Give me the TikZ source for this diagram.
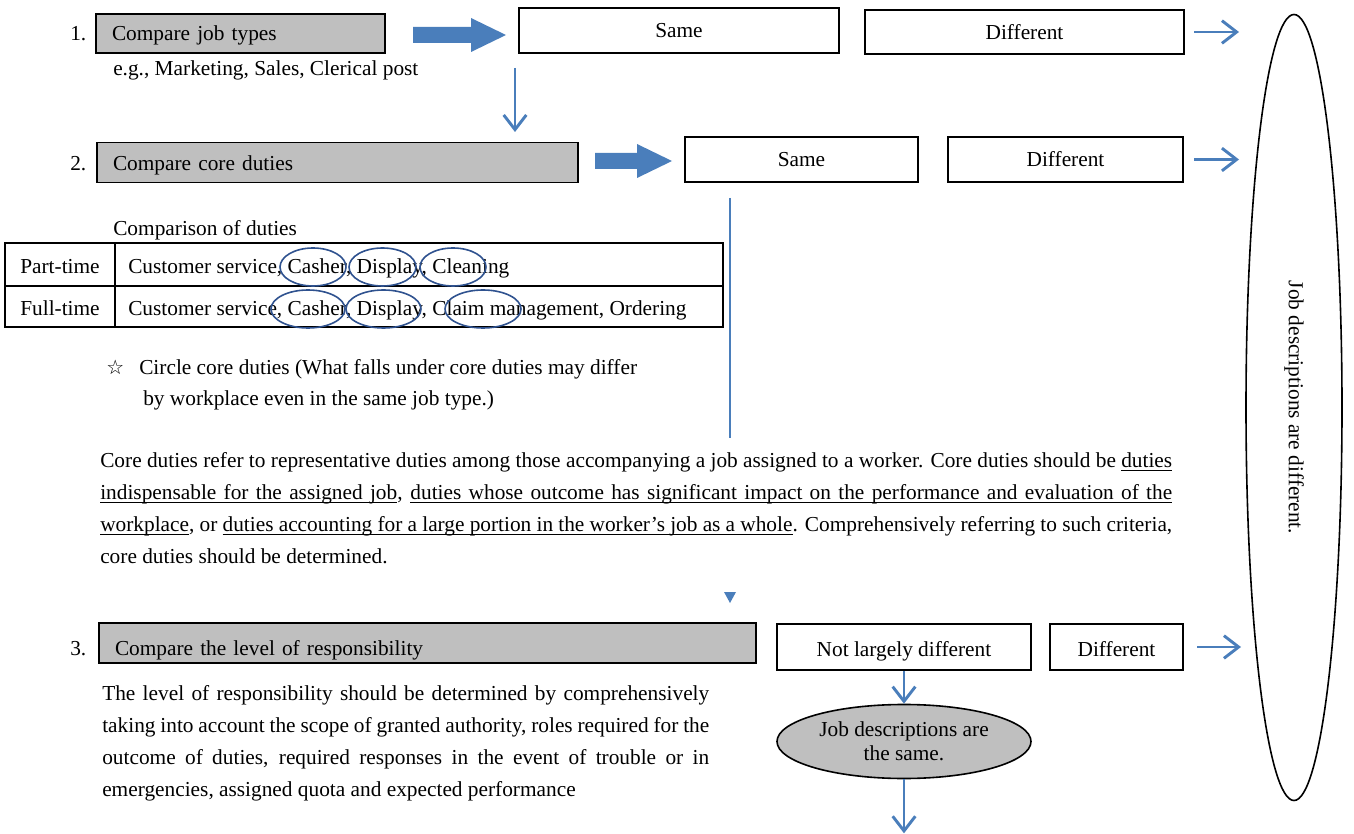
\documentclass[tikz,border=0pt]{standalone}
\usepackage{fontspec}
\setmainfont{Liberation Serif}
\newfontfamily\symfont{DejaVu Sans}
\usetikzlibrary{shapes.geometric,arrows.meta}
\definecolor{ablue}{RGB}{74,126,187}
\definecolor{cblue}{RGB}{47,82,143}
\definecolor{gfill}{RGB}{191,191,191}
\newcommand\uw[1]{\setbox0\hbox{#1}\rlap{\vrule height -1.7pt depth 2.5pt width \wd0}\box0}
\newcommand\us{\leaders\hrule height -1.7pt depth 2.5pt\hskip\fontdimen2\font plus \fontdimen3\font minus \fontdimen4\font\relax}
\def\ulwords#1{\ulA#1 \ulend}
\def\ulA#1 #2\ulend{\uw{#1}\ifx\relax#2\relax\else\us\ulA#2\ulend\fi}
\tikzset{
 every node/.style={font=\fontsize{16}{24}\selectfont},
 gbox/.style={draw, fill=gfill, line width=1.1pt, inner xsep=12pt, inner ysep=0pt, align=left},
 wbox/.style={draw, fill=white, line width=1.5pt, inner sep=0pt},
 bigarrow/.style={fill=ablue},
 thinarrow/.style={draw=ablue, line width=2.2pt, -{Straight Barb[length=11pt,width=17pt]}},
 oval/.style={draw=cblue, line width=1.2pt, ellipse, inner sep=0pt},
 txt/.style={inner sep=0pt, anchor=base west},
 para/.style={anchor=north west, inner sep=0pt, align=justify},
}
\begin{document}
\begin{tikzpicture}[x=0.75pt,y=-0.75pt]
\useasboundingbox (0,0) rectangle (1354,834);
% step 1
\node[txt] (n1) at (70,41) {1.};
\node[gbox, minimum height=29.25pt, text width=192.75pt, text height=14pt, text depth=2.75pt] (c1) at (240.5,33.5) {Compare job types};
\node[txt] (eg) at (113,76) {e.g., Marketing, Sales, Clerical post};
\fill[bigarrow] (413,27) -- (471,27) -- (471,18) -- (506,35) -- (471,52) -- (471,43) -- (413,43) -- cycle;
\node[wbox, minimum width=240pt, minimum height=33.75pt] (s1) at (679,30.5) {Same};
\node[wbox, minimum width=239.25pt, minimum height=33pt] (d1) at (1024.5,32) {Different};
\draw[thinarrow] ([xshift=6.75pt]d1.east) -- ++(45,0);
\coordinate (dA) at (515,68);
\coordinate (dB) at (515,132);
\draw[thinarrow] (dA) -- (dB);
% step 2
\node[txt] (n2) at (70,171) {2.};
\node[gbox, minimum height=30pt, text width=336.75pt, text height=14pt, text depth=1.25pt] (c2) at (337.5,162.5) {Compare core duties};
\fill[bigarrow] (595,153) -- (637,153) -- (637,144) -- (672,161) -- (637,178) -- (637,169) -- (595,169) -- cycle;
\node[wbox, minimum width=174.75pt, minimum height=33.75pt] (s2) at (801.5,159.5) {Same};
\node[wbox, minimum width=176.25pt, minimum height=33.75pt] (d2) at (1065.5,159.5) {Different};
\draw[thinarrow] ([xshift=7.5pt]d2.east) -- ++(45,0);
\coordinate (vA) at (730,198);
\coordinate (vB) at (730,438);
\draw[ablue, line width=2.2pt] (vA) -- (vB);
\node[txt] (cmp) at (113,236) {Comparison of duties};
% table
\draw[line width=1.5pt] (5,243) rectangle (723,327);
\draw[line width=1.5pt] (5,286) -- (723,286);
\draw[line width=1.5pt] (115,243) -- (115,327);
\node[anchor=base, inner sep=0pt] (pt) at (60,274) {Part-time};
\node[anchor=base, inner sep=0pt] (ft) at (60,316) {Full-time};
\node[txt] (ptd) at (128,274) {Customer service, Casher, Display, Cleaning};
\node[txt] (ftd) at (128,316) {Customer service, Casher, Display, Claim management, Ordering};
\node[oval, minimum width=49.5pt, minimum height=28.5pt] (o1) at (313,267) {};
\node[oval, minimum width=50.25pt, minimum height=28.5pt] (o2) at (382.5,267) {};
\node[oval, minimum width=49.5pt, minimum height=28.5pt] (o3) at (453,267) {};
\node[oval, minimum width=55.5pt, minimum height=28.5pt] (o4) at (308,309) {};
\node[oval, minimum width=56.25pt, minimum height=28.5pt] (o5) at (383.5,309) {};
\node[oval, minimum width=57pt, minimum height=28.5pt] (o6) at (483,309) {};
% note
\node[txt, font=\fontsize{15}{16}\symfont] (star) at (106,375) {☆};
\node[txt] (nt1) at (139,375) {Circle core duties (What falls under core duties may differ};
\node[txt] (nt2) at (143,406) {by workplace even in the same job type.)};
\node[para, text width=804pt] (p1) at (100,452) {\hyphenpenalty=10000\tolerance=10000
Core duties refer to representative duties among those accompanying a job assigned to a worker. Core duties should be \ulwords{duties}\linebreak
\ulwords{indispensable for the assigned job}, \ulwords{duties whose outcome has significant impact on the performance and evaluation of the}\linebreak
\ulwords{workplace}, or \ulwords{duties accounting for a large portion in the worker's job as a whole}. Comprehensively referring to such criteria,\linebreak
core duties should be determined.};
\fill[ablue] (724,592) -- (736,592) -- (730,603) -- cycle;
% step 3
\node[txt] (n3) at (70,655) {3.};
\node[gbox, minimum height=30pt, text width=468.75pt, text height=20pt, text depth=2pt] (c3) at (427.5,643) {Compare the level of responsibility};
\node[wbox, minimum width=190.5pt, minimum height=34.5pt, text height=15pt, text depth=1.5pt] (nl) at (904,647) {Not largely different};
\node[wbox, minimum width=99.75pt, minimum height=34.5pt, text height=15pt, text depth=1.5pt] (d3) at (1116.5,647) {Different};
\draw[thinarrow] ([xshift=9.75pt]d3.east) -- ++(44,0);
\node[para, text width=455.25pt] (p2) at (102,685) {\hyphenpenalty=10000\tolerance=10000
The level of responsibility should be determined by comprehensively\linebreak
taking into account the scope of granted authority, roles required for the\linebreak
outcome of duties, required responses in the event of trouble or in\linebreak
emergencies, assigned quota and expected performance};
\node[ellipse, draw, fill=gfill, line width=1.2pt, minimum width=190.5pt, minimum height=55.5pt, inner sep=0pt, align=center, font=\fontsize{16}{18}\selectfont] (js) at (904,741.5) {Job descriptions are\\the same.};
\draw[thinarrow] (nl.south) -- (js.north);
\draw[thinarrow] (js.south) -- ++(0,54);
% big ellipse
\node[ellipse, draw, line width=1.2pt, rotate=-90, minimum width=589.5pt, minimum height=72pt, inner sep=0pt] (jd) at (1294,407.5) {Job descriptions are different.};
\end{tikzpicture}
\end{document}
